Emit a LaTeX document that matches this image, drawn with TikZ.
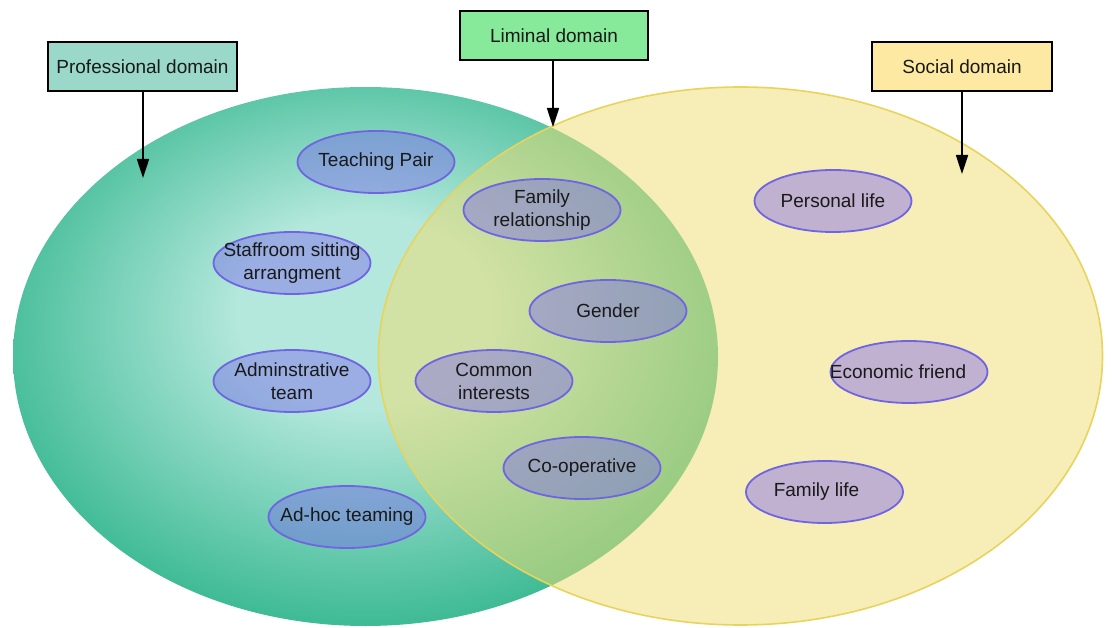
\documentclass[tikz,border=0pt]{standalone}
\usepackage{fontspec}
\setmainfont{Liberation Sans}
\usetikzlibrary{shapes.geometric,arrows.meta}
\definecolor{gin}{RGB}{180,232,220}
\definecolor{gout}{RGB}{64,187,150}
\definecolor{yfill}{RGB}{240,220,110}
\definecolor{yedge}{RGB}{232,212,92}
\definecolor{bubfill}{RGB}{123,104,238}
\definecolor{bubedge}{RGB}{112,100,226}
\definecolor{profc}{RGB}{154,217,201}
\definecolor{limc}{RGB}{135,234,155}
\definecolor{socc}{RGB}{254,233,163}
\pgfdeclareradialshading{greenvenn}{\pgfpoint{0bp}{5bp}}{color(0bp)=(gin); color(9bp)=(gin); color(27bp)=(gout); color(50bp)=(gout)}
\begin{document}
\begin{tikzpicture}[x=1pt,y=-1pt,
  every node/.style={font=\fontsize{19}{23}\selectfont, text=black!90},
  bub/.style={ellipse, draw=bubedge, line width=1.8pt, fill=bubfill, fill opacity=0.45,
    draw opacity=1, minimum width=157pt, minimum height=62pt, inner sep=0pt},
  bubtext/.style={align=center, fill opacity=1, text opacity=1},
  dombox/.style={draw=black, line width=1.6pt, minimum height=49pt, inner sep=0pt},
  pointer/.style={line width=1.7pt, -{Triangle[length=19pt,width=12pt]}}
]
\useasboundingbox (0,0) rectangle (1112,628);
\fill[white] (0,0) rectangle (1112,628);

% big domains
\path[shading=greenvenn] (365.5,356.5) ellipse [x radius=352.5, y radius=269.5];
\path[fill=yfill, fill opacity=0.5, draw=yedge, draw opacity=1, line width=1.6pt]
  (740.5,356) ellipse [x radius=362, y radius=269];

% items
\node[bub, label={[bubtext]center:Teaching Pair}] (tp) at (376,162) {};
\node[bub, label={[bubtext]center:Family\\relationship}] (fr) at (542,210) {};
\node[bub, label={[bubtext]center:Staffroom sitting\\arrangment}] (sa) at (292,263) {};
\node[bub, label={[bubtext]center:Gender}] (ge) at (608,311) {};
\node[bub, label={[bubtext]center:Adminstrative\\team}] (at) at (292,381) {};
\node[bub, label={[bubtext]center:Common\\interests}] (ci) at (494,381) {};
\node[bub, label={[bubtext]center:Co-operative}] (co) at (582,468) {};
\node[bub, label={[bubtext]center:Ad-hoc teaming}] (ah) at (347,517) {};
\node[bub, label={[bubtext]center:Personal life}] (pl) at (833,201) {};
\node[bub, label={[bubtext, xshift=-11pt]center:Economic friend}] (ef) at (909,372) {};
\node[bub, label={[bubtext, xshift=-8pt]center:Family life}] (fl) at (824.5,492) {};

% domain labels
\node[dombox, fill=profc, minimum width=189pt] (prof) at (142.5,66.5) {Professional domain};
\node[dombox, fill=limc, minimum width=188pt] (lim) at (554,35.5) {Liminal domain};
\node[dombox, fill=socc, minimum width=180pt] (soc) at (962,66.5) {Social domain};

\coordinate (profend) at (143,178);
\coordinate (limend) at (553,127);
\coordinate (socend) at (962,174);
\draw[pointer] (prof.south -| profend) -- (profend);
\draw[pointer] (lim.south -| limend) -- (limend);
\draw[pointer] (soc.south -| socend) -- (socend);
\end{tikzpicture}
\end{document}
